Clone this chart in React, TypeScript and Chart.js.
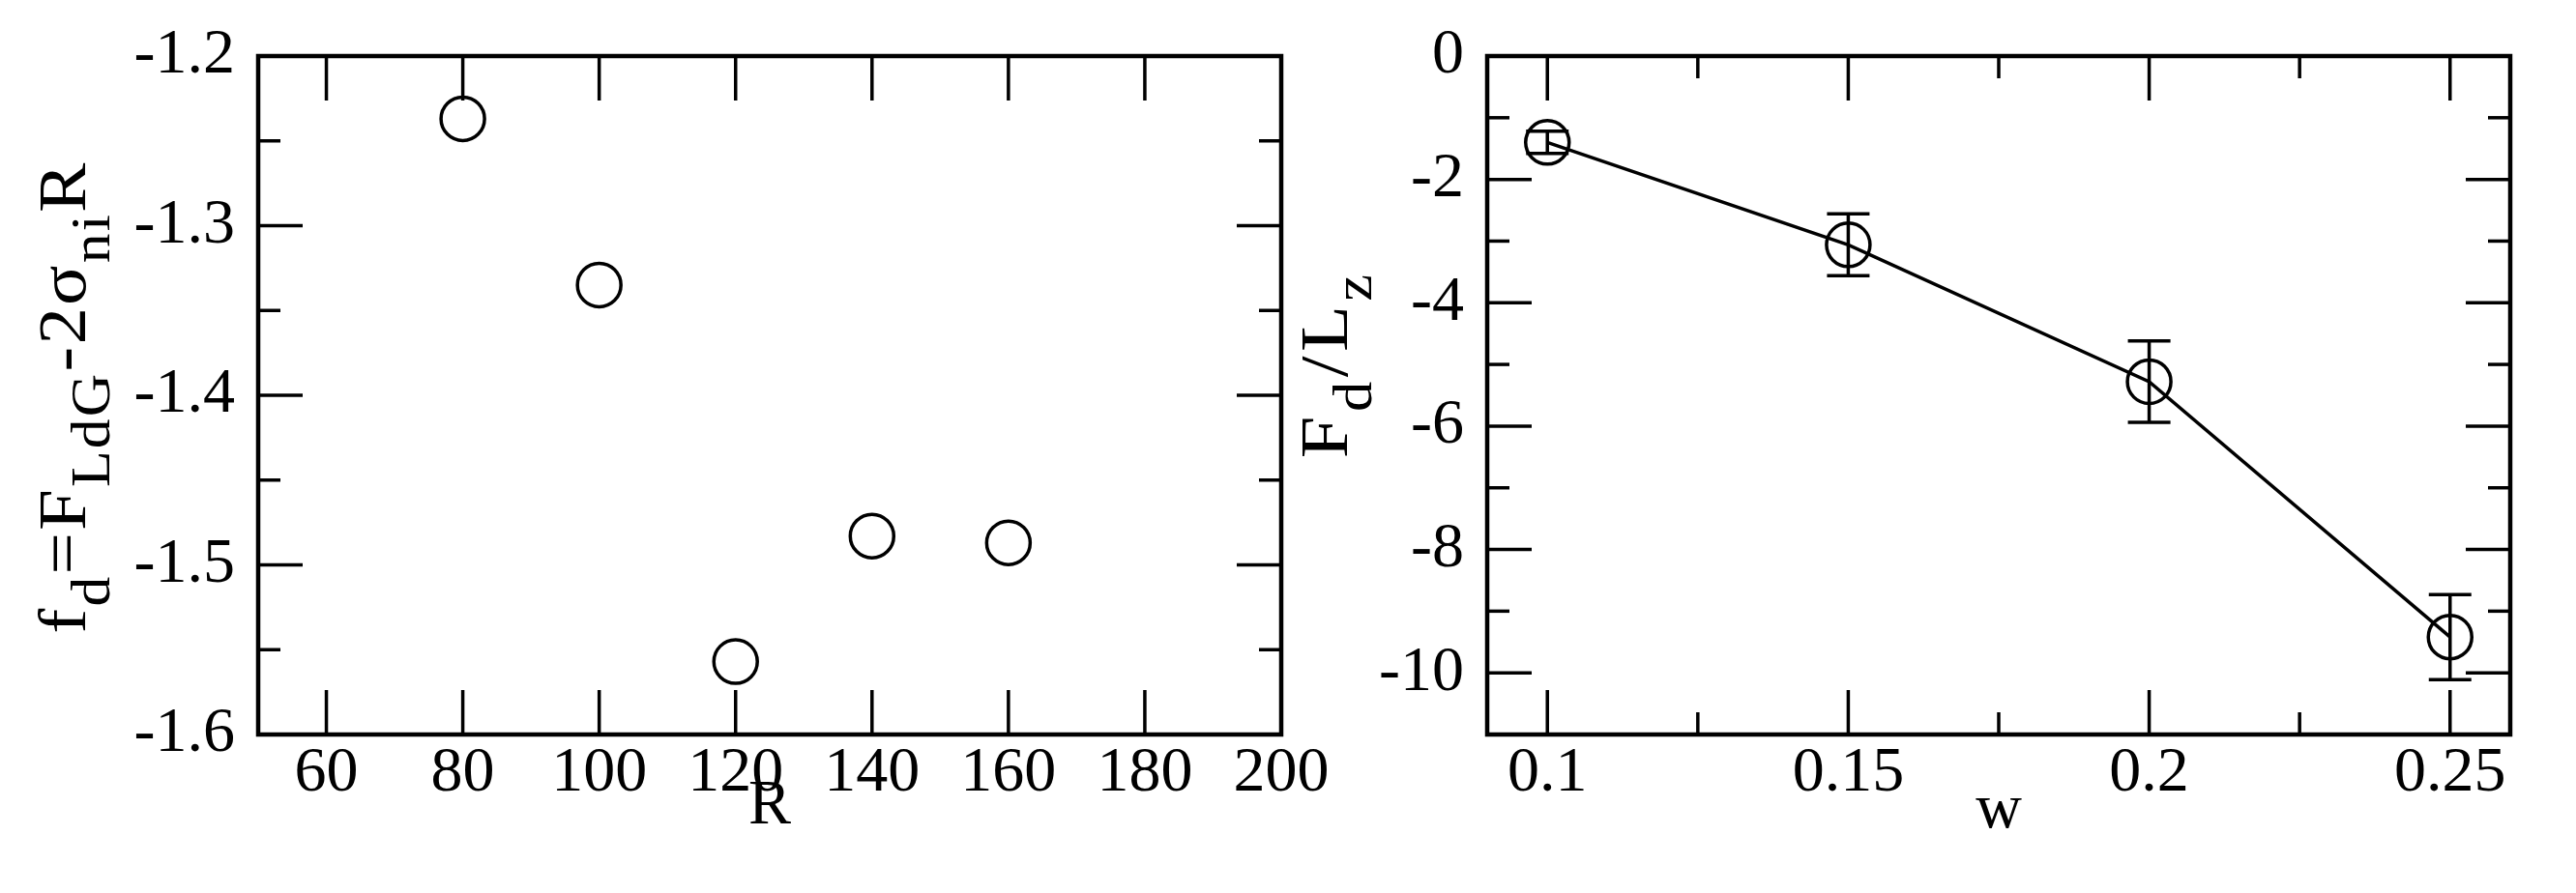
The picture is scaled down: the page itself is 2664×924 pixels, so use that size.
import React, { useEffect, useRef } from 'react';
import { Chart, registerables } from 'chart.js';

Chart.register(...registerables);

// ---------- Left panel data ----------
const rValues = [80, 100, 120, 140, 160];
const fdValues = [-1.237, -1.335, -1.557, -1.483, -1.487];
const leftXTicks = [60, 80, 100, 120, 140, 160, 180, 200];
const leftXMinor: number[] = [];
const leftYTicks = [-1.6, -1.5, -1.4, -1.3, -1.2];
const leftYMinor = [-1.55, -1.45, -1.35, -1.25];

// ---------- Right panel data ----------
const wValues = [0.1, 0.15, 0.2, 0.25];
const fdLzValues = [-1.4, -3.06, -5.28, -9.42];
const fdLzErrors = [0.18, 0.5, 0.66, 0.69];
const rightXTicks = [0.1, 0.15, 0.2, 0.25];
const rightXMinor = [0.125, 0.175, 0.225];
const rightYTicks = [-10, -8, -6, -4, -2, 0];
const rightYMinor = [-9, -7, -5, -3, -1];

const FONT = '"Liberation Serif", "Times New Roman", serif';
const TICK_SIZE = 66;
const TITLE_SIZE = 70;

type Seg = { t: string; sub?: boolean };

const leftYTitle: Seg[] = [
  { t: 'f' }, { t: 'd', sub: true }, { t: '=F' }, { t: 'LdG', sub: true },
  { t: '-2σ' }, { t: 'ni', sub: true }, { t: 'R' },
];
const leftXTitle: Seg[] = [{ t: 'R' }];
const rightYTitle: Seg[] = [{ t: 'F' }, { t: 'd', sub: true }, { t: '/L' }, { t: 'z', sub: true }];
const rightXTitle: Seg[] = [{ t: 'w' }];

function drawRich(ctx: CanvasRenderingContext2D, segs: Seg[], size: number, spacing: number, stretch: number) {
  const subSize = Math.round(size * 0.8);
  const subDrop = size * 0.36;
  const chars: { c: string; sub: boolean; w: number }[] = [];
  segs.forEach((s) => {
    ctx.font = `${s.sub ? subSize : size}px ${FONT}`;
    for (const c of s.t) {
      chars.push({ c, sub: !!s.sub, w: ctx.measureText(c).width });
    }
  });
  let total = 0;
  chars.forEach((ch, i) => { total += ch.w + (i < chars.length - 1 ? spacing : 0); });
  ctx.scale(stretch, 1);
  let x = -total / 2;
  ctx.textAlign = 'left';
  ctx.textBaseline = 'alphabetic';
  chars.forEach((ch) => {
    ctx.font = `${ch.sub ? subSize : size}px ${FONT}`;
    ctx.fillText(ch.c, x, ch.sub ? subDrop : 0);
    x += ch.w + spacing;
  });
}

const frameTicksPlugin = {
  id: 'frameTicks',
  afterDraw(chart: any, _args: any, opts: any) {
    const { ctx, chartArea: a, scales } = chart;
    const xs = scales.x;
    const ys = scales.y;
    ctx.save();
    ctx.strokeStyle = '#000';
    ctx.lineCap = 'butt';
    const line = (x1: number, y1: number, x2: number, y2: number) => {
      ctx.beginPath();
      ctx.moveTo(x1, y1);
      ctx.lineTo(x2, y2);
      ctx.stroke();
    };
    ctx.lineWidth = 3.5;
    const major = 46;
    const minor = 23;
    const doX = (vals: number[], len: number) =>
      vals.forEach((v) => {
        const px = xs.getPixelForValue(v);
        line(px, a.bottom, px, a.bottom - len);
        line(px, a.top, px, a.top + len);
      });
    const doY = (vals: number[], len: number) =>
      vals.forEach((v) => {
        const py = ys.getPixelForValue(v);
        line(a.left, py, a.left + len, py);
        line(a.right, py, a.right - len, py);
      });
    doX(opts.xMajor || [], major);
    doX(opts.xMinor || [], minor);
    doY(opts.yMajor || [], major);
    doY(opts.yMinor || [], minor);
    ctx.lineWidth = 4.5;
    ctx.strokeRect(a.left, a.top, a.right - a.left, a.bottom - a.top);

    // titles
    ctx.fillStyle = '#000';
    const t = opts.titles;
    if (t) {
      ctx.save();
      ctx.translate((a.left + a.right) / 2, a.bottom + t.xBaseline);
      drawRich(ctx, t.x, TICK_SIZE, 0, 1);
      ctx.restore();
      ctx.save();
      ctx.translate(a.left - t.yBaseline, (a.top + a.bottom) / 2 + t.yShift);
      ctx.rotate(-Math.PI / 2);
      drawRich(ctx, t.y, TITLE_SIZE, t.spacing, t.stretch);
      ctx.restore();
    }
    ctx.restore();
  },
};

const errorBarsPlugin = {
  id: 'errorBars',
  afterDatasetsDraw(chart: any, _args: any, opts: any) {
    if (!opts || !opts.errors) return;
    const { ctx, scales } = chart;
    const ds = chart.data.datasets[0];
    ctx.save();
    ctx.strokeStyle = '#000';
    ctx.lineWidth = 3.5;
    const cap = 22;
    ds.data.forEach((p: any, i: number) => {
      const e = opts.errors[i];
      const px = scales.x.getPixelForValue(p.x);
      const yt = scales.y.getPixelForValue(p.y + e);
      const yb = scales.y.getPixelForValue(p.y - e);
      ctx.beginPath();
      ctx.moveTo(px, yt);
      ctx.lineTo(px, yb);
      ctx.moveTo(px - cap, yt);
      ctx.lineTo(px + cap, yt);
      ctx.moveTo(px - cap, yb);
      ctx.lineTo(px + cap, yb);
      ctx.stroke();
    });
    ctx.restore();
  },
};

function makeConfig(p: {
  xs: number[]; ys: number[]; showLine: boolean; xMin: number; xMax: number; yMin: number; yMax: number;
  xTicks: number[]; xMinor: number[]; yTicks: number[]; yMinor: number[];
  yWidth: number; padRight: number; errors?: number[];
  titles: any;
}) {
  const tickFont = { family: FONT, size: TICK_SIZE };
  return {
    type: 'scatter' as const,
    data: {
      datasets: [
        {
          data: p.xs.map((x, i) => ({ x, y: p.ys[i] })),
          showLine: p.showLine,
          borderColor: '#000',
          borderWidth: 3.5,
          pointStyle: 'circle',
          pointRadius: 22.5,
          pointBorderWidth: 3.5,
          pointBorderColor: '#000',
          pointBackgroundColor: 'rgba(0,0,0,0)',
          clip: false,
        },
      ],
    },
    options: {
      animation: false,
      responsive: false,
      maintainAspectRatio: false,
      events: [],
      layout: { padding: { top: 58, right: p.padRight, left: 0, bottom: 0 } },
      plugins: {
        legend: { display: false },
        tooltip: { enabled: false },
        frameTicks: { xMajor: p.xTicks, xMinor: p.xMinor, yMajor: p.yTicks, yMinor: p.yMinor, titles: p.titles },
        errorBars: { errors: p.errors },
      },
      scales: {
        x: {
          type: 'linear',
          min: p.xMin,
          max: p.xMax,
          grid: { display: false, drawTicks: false },
          border: { display: false },
          afterBuildTicks: (s: any) => { s.ticks = p.xTicks.map((v) => ({ value: v })); },
          afterFit: (s: any) => { s.height = 164; s.paddingLeft = 0; s.paddingRight = 0; },
          ticks: {
            font: tickFont, color: '#000', padding: 1, maxRotation: 0, minRotation: 0, autoSkip: false,
            callback: (v: number) => String(v),
          },
        },
        y: {
          type: 'linear',
          min: p.yMin,
          max: p.yMax,
          grid: { display: false, drawTicks: false },
          border: { display: false },
          afterBuildTicks: (s: any) => { s.ticks = p.yTicks.map((v) => ({ value: v })); },
          afterFit: (s: any) => { s.width = p.yWidth; s.paddingTop = 0; s.paddingBottom = 0; },
          ticks: {
            font: tickFont, color: '#000', padding: 24, autoSkip: false,
            callback: (v: number) => String(v),
          },
        },
      },
    },
    plugins: [frameTicksPlugin, errorBarsPlugin],
  };
}

export default function App() {
  const leftRef = useRef<HTMLCanvasElement>(null);
  const rightRef = useRef<HTMLCanvasElement>(null);

  useEffect(() => {
    const left = new Chart(leftRef.current as HTMLCanvasElement, makeConfig({
      xs: rValues, ys: fdValues, showLine: false, xMin: 50, xMax: 200, yMin: -1.6, yMax: -1.2,
      xTicks: leftXTicks, xMinor: leftXMinor, yTicks: leftYTicks, yMinor: leftYMinor,
      yWidth: 267, padRight: 75,
      titles: { x: leftXTitle, y: leftYTitle, xBaseline: 92, yBaseline: 179, yShift: 3, spacing: 2, stretch: 1.1 },
    }) as any);
    const right = new Chart(rightRef.current as HTMLCanvasElement, makeConfig({
      xs: wValues, ys: fdLzValues, showLine: true, xMin: 0.09, xMax: 0.26, yMin: -11, yMax: 0,
      xTicks: rightXTicks, xMinor: rightXMinor, yTicks: rightYTicks, yMinor: rightYMinor,
      yWidth: 206, padRight: 68, errors: fdLzErrors,
      titles: { x: rightXTitle, y: rightYTitle, xBaseline: 96, yBaseline: 145, yShift: -30, spacing: 4, stretch: 1.12 },
    }) as any);
    return () => {
      left.destroy();
      right.destroy();
    };
  }, []);

  return (
    <div style={{ position: 'fixed', left: 0, top: 0, width: 2664, height: 924, background: '#fff' }}>
      <canvas ref={leftRef} width={1400} height={924}
        style={{ position: 'absolute', left: 0, top: 0, width: 1400, height: 924 }} />
      <canvas ref={rightRef} width={1332} height={924}
        style={{ position: 'absolute', left: 1332, top: 0, width: 1332, height: 924 }} />
    </div>
  );
}
